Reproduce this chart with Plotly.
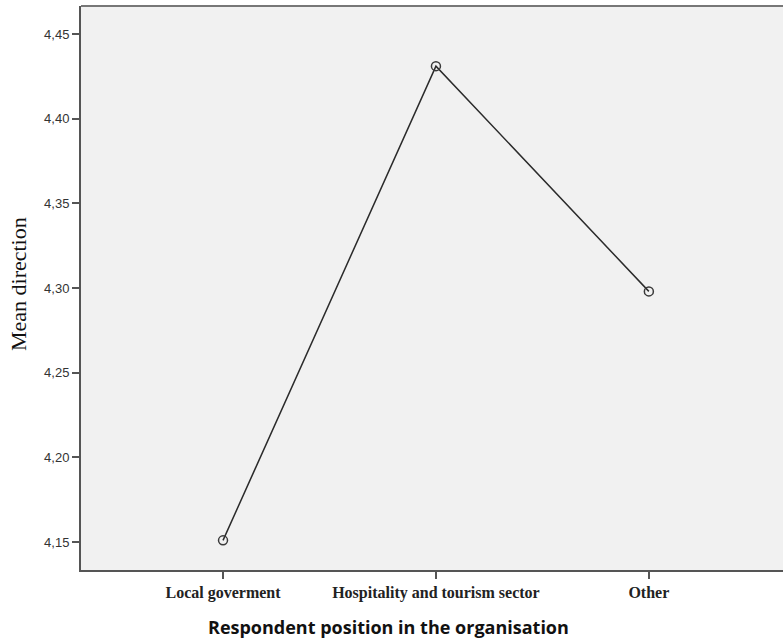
import plotly.graph_objects as go

categories = ["Local goverment", "Hospitality and tourism sector", "Other"]
mean_values = [4.151, 4.431, 4.298]
y_ticks = [4.15, 4.20, 4.25, 4.30, 4.35, 4.40, 4.45]

fig = go.Figure()
fig.add_trace(go.Scatter(
    x=categories, y=mean_values, mode="lines+markers",
    line=dict(color="#2b2b2b", width=1.5),
    marker=dict(symbol="circle-open", size=9, color="#3a3a3a", line=dict(width=1.5)),
    showlegend=False, hoverinfo="skip",
))

fig.update_layout(
    width=783, height=638,
    margin=dict(l=81, r=0, t=6, b=68),
    paper_bgcolor="white", plot_bgcolor="#f1f1f1",
    separators=", ",
    xaxis=dict(
        type="category", range=[-0.667, 2.63],
        showgrid=False, zeroline=False,
        showline=True, linecolor="#555555", linewidth=2, mirror=False,
        ticks="outside", ticklen=7, tickcolor="#555555", tickwidth=2,
        tickfont=dict(family="Liberation Serif", size=16, color="#222222", weight="bold"),
    ),
    yaxis=dict(
        range=[4.1335, 4.4665], tickvals=y_ticks, tickformat=".2f",
        showgrid=False, zeroline=False,
        showline=True, linecolor="#555555", linewidth=2,
        ticks="outside", ticklen=7, tickcolor="#555555", tickwidth=2,
        tickfont=dict(family="Liberation Sans", size=13, color="#333333"),
    ),
    shapes=[dict(type="line", xref="paper", yref="paper", x0=0, x1=1, y0=1, y1=1,
                 line=dict(color="#777777", width=2))],
    annotations=[
        dict(text="Respondent position in the organisation", xref="paper", yref="paper",
             x=0.438, y=0, xanchor="center", yanchor="middle", yshift=-57, showarrow=False,
             font=dict(family="Open Sans", size=18, color="#111111", weight="bold")),
        dict(text="Mean direction", xref="paper", yref="paper",
             x=0, y=0.507, xanchor="center", yanchor="middle", xshift=-63, textangle=-90,
             showarrow=False,
             font=dict(family="Liberation Serif", size=22, color="#111111")),
    ],
)

fig.write_html("out.html", config={"displayModeBar": False},
               post_script="document.body.style.margin='0';document.body.style.overflow='hidden';")
